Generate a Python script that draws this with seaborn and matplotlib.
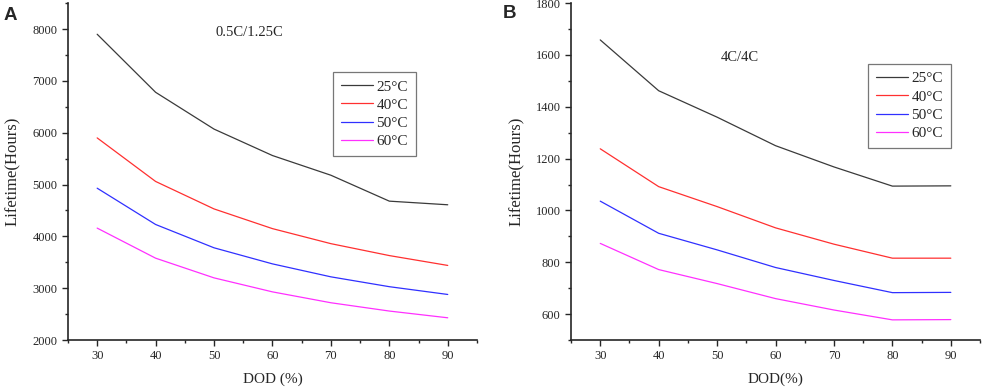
import matplotlib
matplotlib.use("Agg")
import matplotlib.pyplot as plt
import seaborn as sns
import pandas as pd
from matplotlib.ticker import MultipleLocator

dod = [30, 40, 50, 60, 70, 80, 90]
temps = ["25°C", "40°C", "50°C", "60°C"]
colors = ["#3a3a3a", "#ff3030", "#3030ff", "#ff30ff"]

# panel A: 0.5C/1.25C
life_a_25 = [7900, 6780, 6070, 5560, 5180, 4680, 4610]
life_a_40 = [5900, 5060, 4530, 4150, 3860, 3630, 3440]
life_a_50 = [4930, 4230, 3780, 3470, 3220, 3030, 2880]
life_a_60 = [4160, 3580, 3200, 2930, 2720, 2560, 2430]

# panel B: 4C/4C
life_b_25 = [1658, 1462, 1360, 1250, 1168, 1094, 1095]
life_b_40 = [1238, 1092, 1015, 933, 870, 816, 816]
life_b_50 = [1036, 912, 848, 780, 730, 683, 684]
life_b_60 = [873, 772, 718, 660, 616, 578, 579]


def make_df(series):
    rows = []
    for t, vals in zip(temps, series):
        for d, v in zip(dod, vals):
            rows.append({"DOD": d, "Life": v, "Temp": t})
    return pd.DataFrame(rows)


df_a = make_df([life_a_25, life_a_40, life_a_50, life_a_60])
df_b = make_df([life_b_25, life_b_40, life_b_50, life_b_60])

sns.set_style("ticks")
plt.rcParams["font.family"] = ["Liberation Serif", "DejaVu Serif"]

fig = plt.figure(figsize=(9.82, 3.9), dpi=100)
ax1 = fig.add_axes([0.0692, 0.128, 0.4165, 0.864])
ax2 = fig.add_axes([0.5815, 0.128, 0.4165, 0.864])

pal = dict(zip(temps, colors))

for ax, df, ylim, ymaj, ymin, note, notexy, xlab, leg_anchor in [
    (ax1, df_a, (2000, 8500), 1000, 500, "0.5C/1.25C", (0.36, 0.914), "DOD (%)", (0.648, 0.795)),
    (ax2, df_b, (500, 1800), 200, 100, "4C/4C", (0.366, 0.84), "DOD(%)", (0.726, 0.819)),
]:
    sns.lineplot(data=df, x="DOD", y="Life", hue="Temp", palette=pal, ax=ax, linewidth=0.9)
    ax.set_xlim(25, 95)
    ax.set_ylim(*ylim)
    ax.xaxis.set_major_locator(MultipleLocator(10))
    ax.xaxis.set_minor_locator(MultipleLocator(5))
    ax.yaxis.set_major_locator(MultipleLocator(ymaj))
    ax.yaxis.set_minor_locator(MultipleLocator(ymin))
    ax.tick_params(which="major", direction="out", length=4, width=1, labelsize=9)
    ax.tick_params(which="minor", direction="out", length=2.5, width=1)
    for s in ["top", "right"]:
        ax.spines[s].set_visible(False)
    for s in ["left", "bottom"]:
        ax.spines[s].set_linewidth(1.2)
    ax.set_xlabel(xlab, fontsize=11, labelpad=7)
    ax.set_ylabel("Lifetime(Hours)", fontsize=12, labelpad=8)
    ax.text(notexy[0], notexy[1], note, transform=ax.transAxes, fontsize=10.5, va="center")
    leg = ax.legend(title=None, loc="upper left", bbox_to_anchor=leg_anchor, fontsize=11,
                    frameon=True, fancybox=False, edgecolor="#555555", handlelength=2.1,
                    handletextpad=0.25, labelspacing=0.3, borderpad=0.5, borderaxespad=0)
    leg.get_frame().set_linewidth(0.9)

fig.text(0.004, 0.95, "A", fontsize=13.5, fontweight="bold", family="Liberation Sans")
fig.text(0.512, 0.953, "B", fontsize=13.5, fontweight="bold", family="Liberation Sans")

fig.savefig("out.png", dpi=100)
